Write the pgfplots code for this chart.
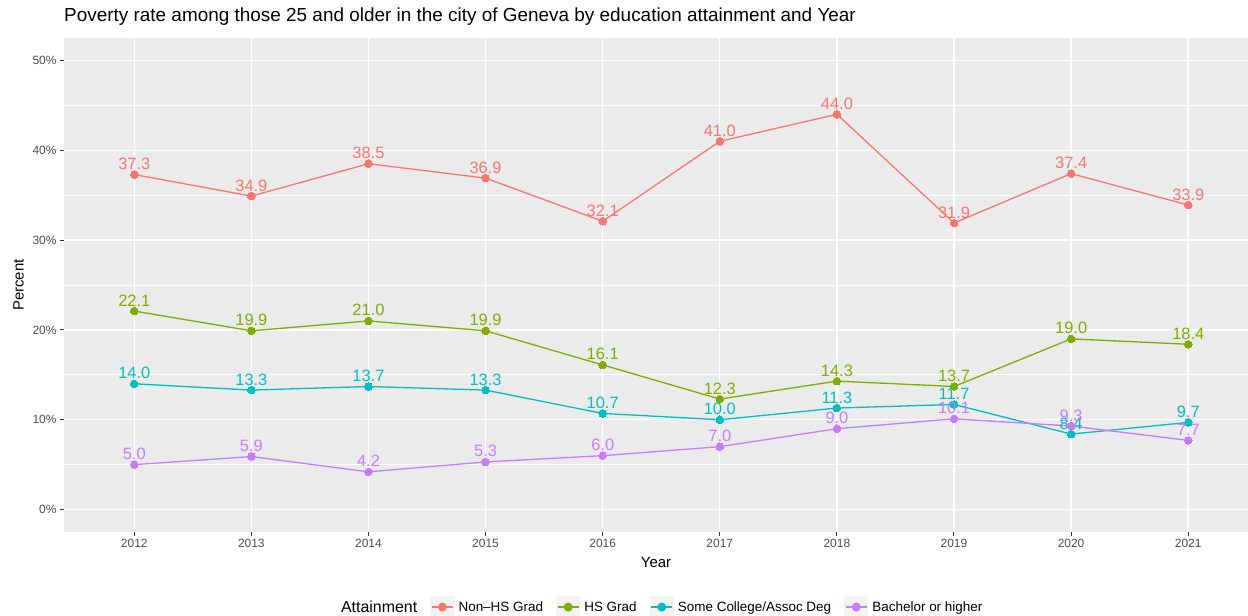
\documentclass[border=0pt]{standalone}
\usepackage{pgfplots}
\pgfplotsset{compat=1.18}
\usepackage{fontspec}
\setmainfont{Liberation Sans}
\definecolor{c1}{HTML}{F8766D}
\definecolor{c2}{HTML}{7CAE00}
\definecolor{c3}{HTML}{00BFC4}
\definecolor{c4}{HTML}{C77CFF}
\definecolor{panel}{HTML}{EBEBEB}
\definecolor{keybg}{HTML}{F2F2F2}
\definecolor{ticklab}{HTML}{4D4D4D}
\definecolor{tickc}{HTML}{333333}
\begin{document}
\begin{tikzpicture}
\useasboundingbox (0,0) rectangle (1248bp,616bp);
\begin{axis}[
  at={(64bp,84bp)}, anchor=south west,
  scale only axis, width=1184bp, height=494bp,
  xmin=2011.4, xmax=2021.51, ymin=-2.5, ymax=52.5,
  axis background/.style={fill=panel},
  axis line style={draw=none},
  xtick={2012,...,2021},
  ytick={0,10,20,30,40,50},
  minor ytick={5,15,25,35,45},
  yticklabel={\pgfmathprintnumber{\tick}\%},
  /pgf/number format/assume math mode=true,
  x tick label style={/pgf/number format/1000 sep={}, font=\fontsize{12}{12}\selectfont, text=ticklab},
  y tick label style={font=\fontsize{12}{12}\selectfont, text=ticklab},
  tick style={draw=tickc, line width=1bp},
  major tick length=4bp, minor tick length=0pt,
  tick align=outside, tick pos=left,
  grid=both,
  major grid style={draw=white, line width=1.4bp},
  minor grid style={draw=white, line width=0.7bp},
  xlabel={Year}, ylabel={Percent},
  label style={font=\fontsize{15}{15}\selectfont},
  xlabel style={yshift=-2bp},
  ylabel style={yshift=2bp},
  title={Poverty rate among those 25 and older in the city of Geneva by education attainment and Year},
  title style={at={(0,1)}, anchor=base west, font=\fontsize{19}{19}\selectfont, inner sep=0pt, yshift=11bp},
  nodes near coords={\pgfmathprintnumber[fixed,zerofill,precision=1]{\pgfplotspointmeta}},
  every node near coord/.append style={font=\fontsize{16.5}{16.5}\selectfont, anchor=base, inner sep=0pt, outer sep=0pt},
  every axis plot/.append style={line width=1.3bp, mark=*, mark size=3.8bp, mark options={line width=0pt}},
  legend columns=-1,
  legend style={draw=none, fill=none, at={(0.504,-0.152)}, anchor=center, font=\fontsize{13.5}{13.5}\selectfont,
    /tikz/every even column/.append style={column sep=11bp},
    /tikz/every odd column/.append style={column sep=2bp}},
  legend image code/.code={
    \fill[keybg] (0bp,-10bp) rectangle (23bp,10bp);
    \draw[line width=1.3bp] (1bp,0bp) -- (22bp,0bp);
    \fill (11.5bp,0bp) circle (3.8bp);
  },
]
\addlegendimage{empty legend}
\addlegendentry{\fontsize{16}{16}\selectfont Attainment}
\addplot[color=c1, every node near coord/.append style={text=c1, yshift=5bp}] coordinates {
(2012,37.3) (2013,34.9) (2014,38.5) (2015,36.9) (2016,32.1) (2017,41.0) (2018,44.0) (2019,31.9) (2020,37.4) (2021,33.9)};
\addlegendentry{Non–HS Grad}
\addplot[color=c2, every node near coord/.append style={text=c2, yshift=5bp}] coordinates {
(2012,22.1) (2013,19.9) (2014,21.0) (2015,19.9) (2016,16.1) (2017,12.3) (2018,14.3) (2019,13.7) (2020,19.0) (2021,18.4)};
\addlegendentry{HS Grad}
\addplot[color=c3, every node near coord/.append style={text=c3, yshift=5bp}] coordinates {
(2012,14.0) (2013,13.3) (2014,13.7) (2015,13.3) (2016,10.7) (2017,10.0) (2018,11.3) (2019,11.7) (2020,8.4) (2021,9.7)};
\addlegendentry{Some College/Assoc Deg}
\addplot[color=c4, every node near coord/.append style={text=c4, yshift=5bp}] coordinates {
(2012,5.0) (2013,5.9) (2014,4.2) (2015,5.3) (2016,6.0) (2017,7.0) (2018,9.0) (2019,10.1) (2020,9.3) (2021,7.7)};
\addlegendentry{Bachelor or higher}
\end{axis}
\end{tikzpicture}
\end{document}
